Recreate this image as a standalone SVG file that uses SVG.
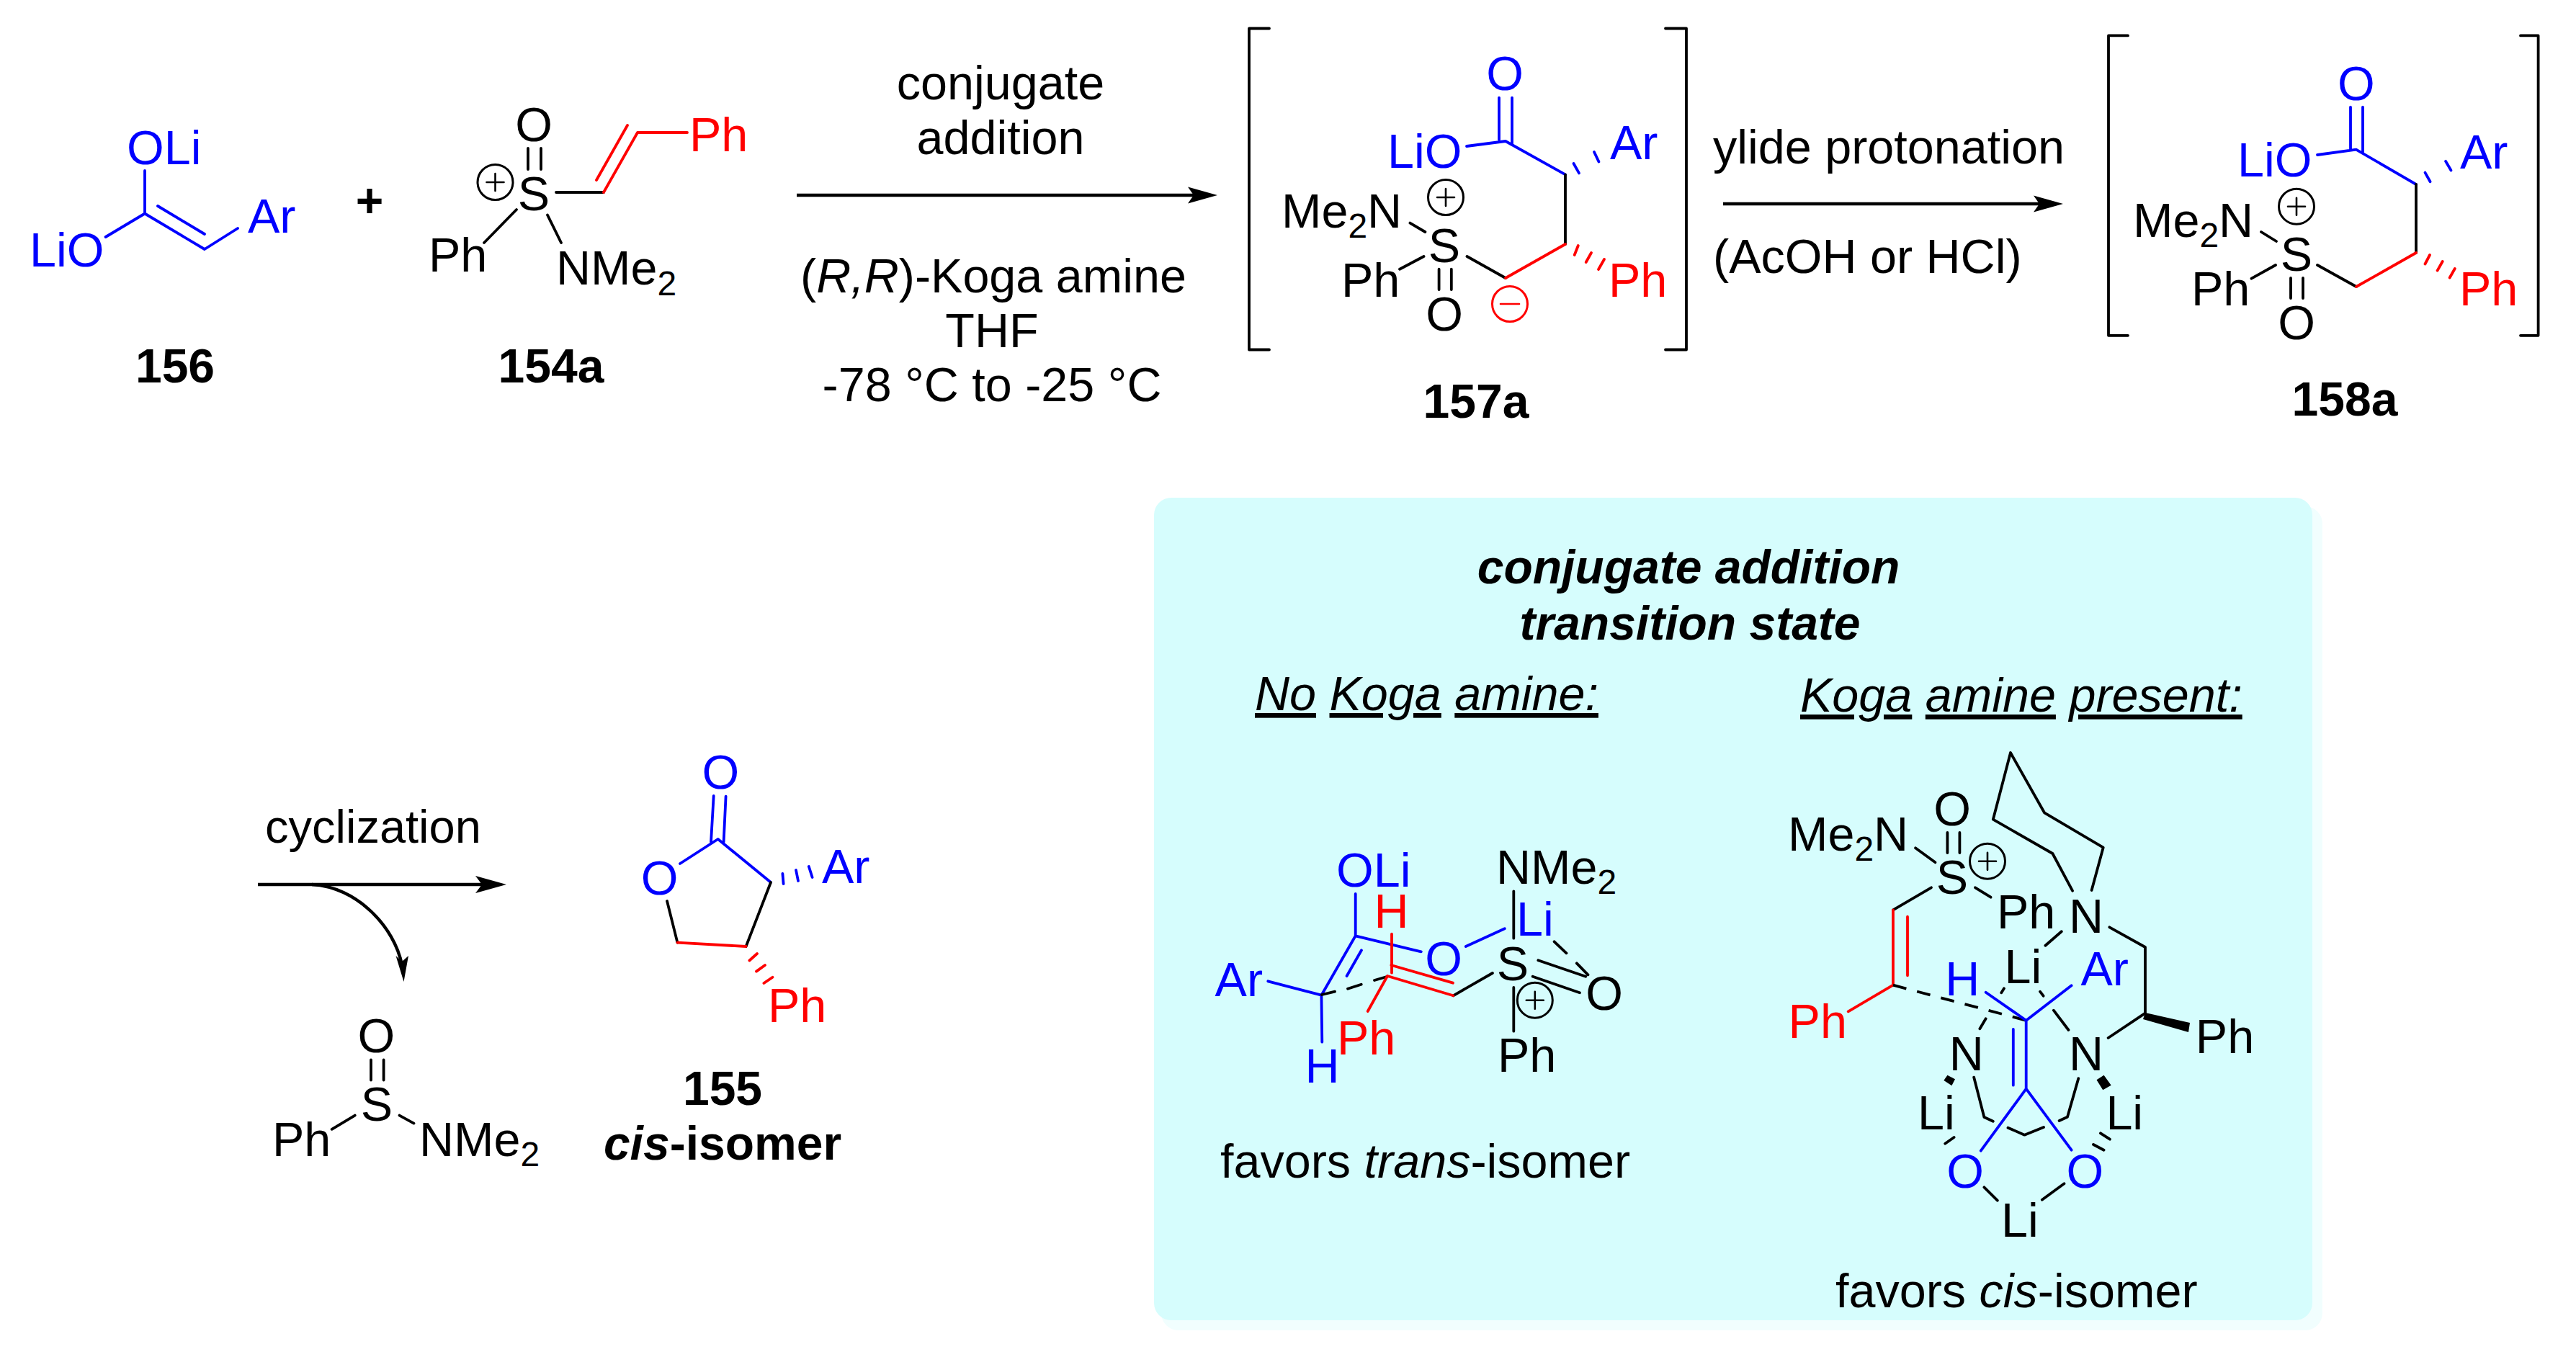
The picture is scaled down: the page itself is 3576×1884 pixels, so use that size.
<svg xmlns="http://www.w3.org/2000/svg" width="3576" height="1884" viewBox="0 0 3576 1884">
<style>
text{font-family:"Liberation Sans",Arial,sans-serif;font-size:66.5px;fill:#000}
.m{text-anchor:middle}
.b{fill:#00f}.r{fill:#f00}
.lab{font-weight:bold;font-size:66px}
.sub{font-size:48px}
.i{font-style:italic}
.u{text-decoration:underline}
path,line{fill:none;stroke:#000;stroke-width:3.8;stroke-linecap:round;stroke-linejoin:round}
.sb{stroke:#00f}.sr{stroke:#f00}
.thin{stroke-width:2.6}
.ar{fill:#000;stroke:none}
circle.c{fill:none;stroke:#000;stroke-width:3}
.ln{stroke-width:4.4;stroke-linecap:butt}
</style>
<defs>
<g id="plus"><circle class="c" r="24.5"/><path class="thin" d="M-12,0H12M0,-12V12"/></g>
</defs>
<rect x="1612" y="703" width="1612" height="1144" rx="24" fill="#f1fefe"/>
<rect x="1602" y="691" width="1608" height="1142" rx="24" fill="#d6fdfd"/>

<g id="connectors">
<path class="ln" d="M1106,271H1660"/><path class="ar" d="M1690,271L1649,259.500L1657,271L1649,282.500Z"/>
<path class="ln" d="M2392,283H2835"/><path class="ar" d="M2864,283L2823,271.500L2831,283L2823,294.500Z"/>
<path class="ln" d="M358,1228H675"/><path class="ar" d="M703,1228L660,1216L669,1228L660,1240Z"/>
<path class="ln" d="M433,1228C495,1231 548,1287 558,1340"/><path class="ar" d="M560.500,1363L549.500,1327L558,1335L567,1327Z"/>
</g>

<g id="n156">
<path class="sb" d="M201,237V296.500L146.600,329M201,296.500L284,346L330,317M219,286L284,325"/>
<text class="b" x="176" y="228">OLi</text>
<text class="b" x="41" y="370">LiO</text>
<text class="b" x="344" y="323">Ar</text>
<text class="lab m" x="243" y="531">156</text>
</g>
<text id="plus-sign" class="lab m" x="513" y="301">+</text>
<g id="n154a">
<path d="M733,206V235M751,206V235M772,267H838M717,291L672,337M760,298.500L779,337"/>
<path class="sr" d="M838,267L885,184H954M828,250L871,174"/>
<use href="#plus" x="687.500" y="253"/>
<text class="m" x="741" y="196">O</text>
<text class="m" x="741" y="292">S</text>
<text class="r" x="957" y="210">Ph</text>
<text x="595" y="377">Ph</text>
<text x="772" y="395">NMe<tspan class="sub" dy="15">2</tspan></text>
<text class="lab m" x="765" y="531">154a</text>
</g>

<g id="cond1">
<text class="m" x="1389" y="138">conjugate</text>
<text class="m" x="1389" y="214">addition</text>
<text class="m" x="1379" y="406">(<tspan class="i">R,R</tspan>)-Koga amine</text>
<text class="m" x="1377" y="482">THF</text>
<text class="m" x="1377" y="557">-78 °C to -25 °C</text>
</g>

<g id="n157a">
<path d="M1762,39.500H1734V485.500H1762M2312,39.500H2341V485.500H2312" stroke-linecap="butt" stroke-width="4.400"/>
<path class="sb" d="M2081,135.600V194M2099,135.600V200M2036,203L2090,196L2173,242.400"/>
<path class="sb" d="M2184.500,227L2192,240.400M2213,211L2219.500,224.600"/>
<path d="M2173,242.400V339M2090,386L2036.500,356M1957.400,309.600L1978.400,322M1976.500,356L1943,373.700M1997.600,373.700V402M2014.800,373.700V402"/>
<path class="sr" d="M2173,339L2090,386M2185.700,354L2190.800,341M2201.700,364L2209,351M2219,374L2227,360"/>
<use href="#plus" x="2007" y="274"/>
<g transform="translate(2096,422)"><circle class="c" r="24.500" style="stroke:#f00"/><path class="thin sr" d="M-13,0H13"/></g>
<text class="b m" x="2089" y="125">O</text>
<text class="b" x="1926" y="233">LiO</text>
<text class="b" x="2235" y="221">Ar</text>
<text class="r" x="2233" y="412">Ph</text>
<text class="m" x="2005" y="364">S</text>
<text x="1779" y="316">Me<tspan class="sub" dy="14">2</tspan><tspan dy="-14">N</tspan></text>
<text x="1862" y="412">Ph</text>
<text class="m" x="2005" y="459">O</text>
<text class="lab m" x="2049" y="580">157a</text>
</g>

<g id="cond2">
<text x="2378" y="227">ylide protonation</text>
<text x="2378" y="379">(AcOH or HCl)</text>
</g>

<g id="n158a">
<path d="M2954,49.400H2927V465.800H2954M3499,49.400H3523.600V465.800H3499" stroke-linecap="butt" stroke-width="4.400"/>
<path class="sb" d="M3263,148.700V207.600M3280,148.700V212M3217,215L3270.800,207.600L3354,256"/>
<path class="sb" d="M3366.500,239.600L3373.600,252.300M3395,223.800L3402.500,236.500"/>
<path d="M3354,256V351M3271,398L3217,368M3139,322L3160,335M3159,368L3125.500,386.700M3180,386V414M3197,386V414"/>
<path class="sr" d="M3354,351L3271,398M3373,354L3366.500,366.500M3390.700,363L3383.600,375.600M3407.800,373L3400.700,385.500"/>
<use href="#plus" x="3188" y="286.700"/>
<text class="b m" x="3270.800" y="139">O</text>
<text class="b" x="3106" y="245">LiO</text>
<text class="b" x="3415" y="234">Ar</text>
<text class="r" x="3414" y="424">Ph</text>
<text class="m" x="3188" y="376">S</text>
<text x="2961" y="329">Me<tspan class="sub" dy="14">2</tspan><tspan dy="-14">N</tspan></text>
<text x="3042" y="424">Ph</text>
<text class="m" x="3188" y="471">O</text>
<text class="lab m" x="3255" y="577">158a</text>
</g>

<g id="n-sulfinamide">
<path d="M515,1471.400V1499.600M532.600,1471.400V1499.600M492.700,1548.600L460.600,1567.800M554.500,1548.600L574.500,1559.600"/>
<text class="m" x="522.400" y="1461">O</text>
<text class="m" x="523" y="1556">S</text>
<text x="378" y="1605">Ph</text>
<text x="582" y="1605">NMe<tspan class="sub" dy="14">2</tspan></text>
</g>
<text id="cond3" x="368" y="1170" style="font-size:65px">cyclization</text>

<g id="n155">
<path class="sb" d="M990.700,1105L987,1169M1007.600,1105.700L1004.600,1169M944,1199L996.700,1165L1070,1225M1087.600,1227L1086.400,1213M1108,1223L1105,1208M1127.600,1218L1122.800,1203"/>
<path d="M1070,1225L1035.600,1314M940.400,1308.600L926,1251"/>
<path class="sr" d="M1035.600,1314L940.400,1308.600M1051,1324L1040.400,1333.500M1062,1340L1050,1348.600M1072.500,1356.700L1060.400,1365"/>
<text class="b m" x="1000.400" y="1095">O</text>
<text class="b m" x="915.600" y="1242">O</text>
<text class="b" x="1141" y="1226">Ar</text>
<text class="r" x="1066" y="1419">Ph</text>
<text class="lab m" x="1003" y="1534">155</text>
<text class="lab m" x="1003" y="1610"><tspan class="i">cis</tspan>-isomer</text>
</g>

<g id="box-titles">
<text class="lab i m" x="2344" y="810">conjugate addition</text>
<text class="lab i m" x="2346" y="888">transition state</text>
<text class="i" x="1742" y="986"><tspan class="u">No</tspan> <tspan class="u">Koga</tspan> <tspan class="u">amine:</tspan></text>
<text class="i" x="2499" y="988"><tspan class="u">Koga</tspan> <tspan class="u">amine</tspan> <tspan class="u">present:</tspan></text>
</g>

<g id="ts-no-koga">
<path class="sb" d="M1881.700,1241V1299.300L1972.800,1321.300M2034.800,1314L2088.800,1289.300M1881.700,1299.300L1834.400,1381.700L1760.300,1362.300M1890,1319.300L1869.600,1355M1834.400,1381.700L1835.300,1446.700"/>
<path d="M1835,1381L1853,1376.700M1871,1372.700L1889.700,1366.700M1908,1361L1926,1355.700M2017.400,1382.300L2071.900,1351M2101.300,1237.300V1302.700M2157.600,1307.300L2174.500,1323.300M2188.800,1337.300L2204.500,1353.300M2135.300,1333.300L2201.300,1355.700M2127.700,1355.700L2192.900,1378.300M2101.300,1371V1431.700"/>
<path class="sr" d="M1898.700,1404L1926,1355L2017.400,1382.300M1931.300,1340L2017,1364.700M1932,1296.700V1350.700"/>
<use href="#plus" x="2130.800" y="1388.700"/>
<text class="b" x="1855" y="1231">OLi</text>
<text class="r" x="1907.500" y="1288">H</text>
<text class="b m" x="2004" y="1354">O</text>
<text class="b" x="2105" y="1299">Li</text>
<text class="b" x="1686.600" y="1383">Ar</text>
<text class="b" x="1811.500" y="1503">H</text>
<text class="r" x="1856" y="1464">Ph</text>
<text class="m" x="2100" y="1361">S</text>
<text x="2077" y="1227">NMe<tspan class="sub" dy="14">2</tspan></text>
<text class="m" x="2227" y="1402">O</text>
<text x="2079" y="1488">Ph</text>
<text x="1694" y="1635">favors <tspan class="i">trans</tspan>-isomer</text>
</g>

<g id="ts-koga">
<path d="M2703.400,1156V1184M2720.400,1156V1184M2659,1177.300L2686.500,1197.300M2742,1232.300L2763.600,1245.700M2681,1232.300L2628,1263.300"/>
<path class="sr" d="M2628,1263.300V1367.700L2565.700,1404.300M2648,1272.700V1354.300"/>
<line x1="2628" y1="1367.700" x2="2812.700" y2="1416.700" stroke-dasharray="19 15.300" style="stroke-linecap:butt"/>
<path d="M2877,1236.700L2849.400,1185L2766.800,1137.700L2791,1045L2838,1128.300L2919.700,1176.700L2903.600,1236M2861.800,1293.300L2839.400,1312.700M2928.400,1287.300L2978,1315V1406.700L2926.600,1441"/>
<path d="M2778.300,1378.300L2782,1372.300M2832,1376.700L2836.600,1382.700M2850.800,1402.700L2871.500,1430M2756.700,1414.300L2748.400,1428.300M2754.400,1648.300L2772.800,1666.700M2865.500,1643.300L2834.800,1665.700M2712.600,1579L2700.200,1587.700M2916,1573.300L2928.900,1581.700M2906,1589L2920.600,1596.700"/>
<path d="M2740.200,1495.700L2754.400,1551L2766.800,1556.700M2787.500,1565.700L2810.400,1575.700L2837,1565M2858.600,1556L2870,1550.700L2885.300,1497.300"/>
<path class="ar" d="M2978,1406L3040,1420L3038,1433L2975,1415Z"/>
<path class="ar" d="M2703.400,1492.700L2698.400,1500L2709.400,1507.300L2714,1498.300Z"/>
<path class="ar" d="M2920.600,1492.700L2910.500,1499.300L2919.200,1513.300L2930.700,1506.700Z"/>
<path class="sb" d="M2756.700,1377.700L2812.700,1416.700L2875.600,1368.300M2812.700,1417.300V1511.700M2794.800,1429V1506.700M2749.800,1597.700L2812.700,1511.700L2875.600,1596.700"/>
<use href="#plus" x="2759" y="1195.700"/>
<text x="2482" y="1181">Me<tspan class="sub" dy="14">2</tspan><tspan dy="-14">N</tspan></text>
<text class="m" x="2710" y="1146">O</text>
<text class="m" x="2710" y="1241">S</text>
<text x="2772" y="1289">Ph</text>
<text x="2872" y="1295">N</text>
<text class="r" x="2482.600" y="1441">Ph</text>
<text class="b" x="2700.300" y="1382">H</text>
<text x="2782.500" y="1365">Li</text>
<text class="b" x="2888.500" y="1368">Ar</text>
<text x="3047.800" y="1462">Ph</text>
<text x="2705.800" y="1485.700">N</text>
<text x="2872" y="1485.700">N</text>
<text x="2662" y="1567.700">Li</text>
<text x="2923.400" y="1567.700">Li</text>
<text class="b m" x="2728" y="1649">O</text>
<text class="b m" x="2894.400" y="1649">O</text>
<text x="2778" y="1716.700">Li</text>
<text x="2548" y="1815">favors <tspan class="i">cis</tspan>-isomer</text>
</g>
</svg>
